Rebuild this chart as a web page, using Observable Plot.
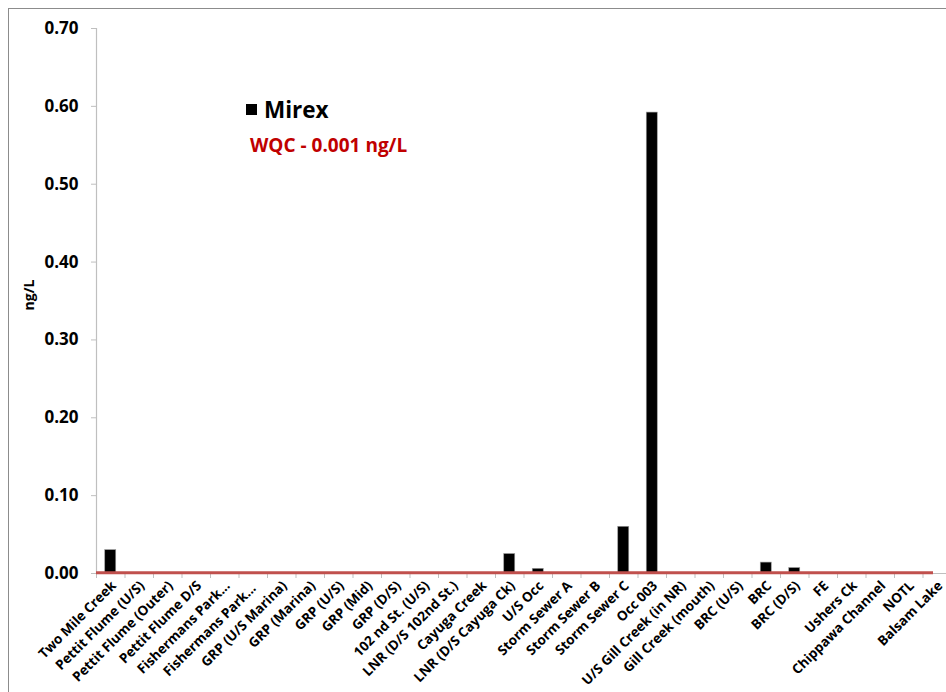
<!DOCTYPE html>
<html>
<head>
<meta charset="utf-8">
<script src="https://cdn.jsdelivr.net/npm/d3@7"></script>
<script src="https://cdn.jsdelivr.net/npm/@observablehq/plot@0.6"></script>
<style>
  html, body { margin: 0; padding: 0; background: #fff; overflow: hidden; }
  #wrap { position: relative; width: 946px; height: 692px; overflow: hidden; font-family: "Open Sans", "Liberation Sans", sans-serif; }
  #border { position: absolute; left: 8px; top: 8px; width: 980px; height: 720px; border: 1.5px solid #8c8c8c; box-sizing: border-box; }
  #chart { position: absolute; left: 0; top: 0; width: 960px; }
  #chart svg { max-width: none !important; }
  .legend { position: absolute; font-weight: bold; white-space: nowrap; }
  #leg-mirex { left: 246px; top: 94px; font-size: 22.5px; color: #000; }
  #leg-mirex .sw { display: inline-block; width: 11px; height: 11px; background: #000; margin-right: 7px; vertical-align: 3px; }
  #leg-wqc { left: 250px; top: 132px; font-size: 19px; color: #c00000; }
</style>
</head>
<body>
<div id="wrap">
  <div id="border"></div>
  <div id="chart"></div>
  <div class="legend" id="leg-mirex"><span class="sw"></span>Mirex</div>
  <div class="legend" id="leg-wqc">WQC - 0.001 ng/L</div>
</div>
<script>
// Sampling stations along the river
const stations = [
  "Two Mile Creek", "Pettit Flume (U/S)", "Pettit Flume (Outer)", "Pettit Flume D/S",
  "Fishermans Park...", "Fishermans Park... ", "GRP (U/S Marina)", "GRP (Marina)",
  "GRP (U/S)", "GRP (Mid)", "GRP (D/S)", "102 nd St. (U/S)", "LNR (D/S 102nd St.)",
  "Cayuga Creek", "LNR (D/S Cayuga Ck)", "U/S Occ", "Storm Sewer A", "Storm Sewer B",
  "Storm Sewer C", "Occ 003", "U/S Gill Creek (in NR)", "Gill Creek (mouth)",
  "BRC (U/S)", "BRC", "BRC (D/S)", "FE", "Ushers Ck", "Chippawa Channel", "NOTL", "Balsam Lake"
];

// Mirex concentration (ng/L) per station
const mirex = [
  0.030, 0, 0, 0,
  0, 0, 0, 0,
  0, 0, 0, 0, 0,
  0, 0.025, 0.006, 0, 0,
  0.060, 0.592, 0, 0,
  0, 0.014, 0.007, 0, 0, 0, 0, 0
];

// Water quality criterion (ng/L)
const wqc = 0.001;

const yTicks = [0, 0.1, 0.2, 0.3, 0.4, 0.5, 0.6, 0.7];

const data = stations.map((s, i) => ({station: s, value: mirex[i]}));

const W = 960, H = 692, ML = 96, MR = 9, MT = 28, MB = 119;
const step = (W - ML - MR) / stations.length;
const barW = 11;
const axisColor = "#bfbfbf";

const chart = Plot.plot({
  width: W,
  height: H,
  marginLeft: ML,
  marginRight: MR,
  marginTop: MT,
  marginBottom: MB,
  style: {fontFamily: "'Open Sans', 'Liberation Sans', sans-serif", background: "transparent"},
  x: {domain: stations, padding: 0, round: false, label: null},
  y: {domain: [0, 0.7], label: null},
  marks: [
    // axis lines
    Plot.frame({anchor: "bottom", stroke: axisColor, strokeWidth: 1.2}),
    Plot.frame({anchor: "left", stroke: axisColor, strokeWidth: 1.2}),
    // x tick marks at category boundaries
    Plot.axisX({tickSize: 5, dx: -step / 2, tickFormat: () => "", stroke: axisColor, label: null}),
    // rotated station labels
    Plot.axisX({
      tickSize: 0, tickRotate: -45, tickPadding: 10, dx: 3, label: null,
      fontSize: 13.5, fontWeight: "bold", fill: "#000"
    }),
    // y axis
    Plot.axisY({
      ticks: yTicks, tickFormat: d3.format(".2f"), tickSize: 5, tickPadding: 13,
      stroke: axisColor, fontSize: 17, fontWeight: "bold", fill: "#000", label: null
    }),
    Plot.text(["ng/L"], {
      frameAnchor: "left", textAnchor: "middle", dx: -67, dy: -6, rotate: -90,
      fontSize: 14, fontWeight: "bold", fill: "#000"
    }),
    // Mirex bars
    Plot.barY(data, {
      x: "station", y: "value", fill: "#000", stroke: "#9a9a9a", strokeWidth: 0.6,
      insetLeft: (step - barW) / 2, insetRight: (step - barW) / 2
    }),
    // WQC reference line
    Plot.ruleY([wqc], {stroke: "#c0504d", strokeWidth: 3, insetRight: 18})
  ]
});

document.getElementById("chart").appendChild(chart);
</script>
</body>
</html>
